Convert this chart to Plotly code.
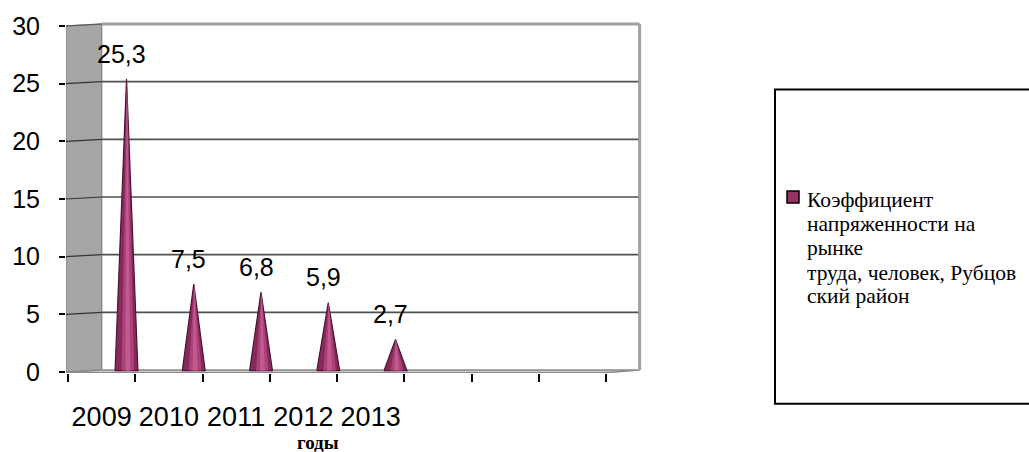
import plotly.graph_objects as go

# Series: labour-market tension coefficient by year
years = ["2009", "2010", "2011", "2012", "2013"]
values = [25.3, 7.5, 6.8, 5.9, 2.7]
value_labels = ["25,3", "7,5", "6,8", "5,9", "2,7"]
n_slots = 8  # category slots on the floor (last three are empty)
y_ticks = [0, 5, 10, 15, 20, 25, 30]
legend_lines = ["Коэффициент", "напряженности на", "рынке",
                "труда, человек, Рубцов", "ский район"]
x_title = "годы"

SANS = "Liberation Sans, Arial, sans-serif"
SERIF = "Liberation Serif, Times New Roman, serif"

# ---- page / plot geometry (pixels) ----
W, H = 1029, 452
PLOT_L, PLOT_R, PLOT_T, PLOT_B = 66, 645, 20, 373
X0_PX, X_UNIT = 68, 67.25      # pixel of x=0 and pixels per category
Y0_PX, Y_UNIT = 372, 11.6      # pixel of y=0 and pixels per unit
x_range = [(PLOT_L - X0_PX) / X_UNIT, (PLOT_R - X0_PX) / X_UNIT]
y_range = [(Y0_PX - PLOT_B) / Y_UNIT, (Y0_PX - PLOT_T) / Y_UNIT]

DX = 0.5            # depth shift of the back wall (x units)
DY = 2 / Y_UNIT     # depth shift of the back wall (y units)
CONE_DEPTH = 0.37   # cone centre offset from front slot centre
CONE_HW = 0.17      # cone half base width
YMAX = y_ticks[-1]
XL = x_range[0]

LEGEND_LINE_Y = [199, 223, 247, 272, 296]   # pixel centres of legend text lines


def paper_x(px):
    return (px - PLOT_L) / (PLOT_R - PLOT_L)


def paper_y(py):
    return (PLOT_B - py) / (PLOT_B - PLOT_T)


fig = go.Figure()
shapes = []

# left (side) wall
shapes.append(dict(type="path", xref="x", yref="y",
                   path=f"M{XL},0 L{XL},{YMAX} L{DX},{YMAX + DY} L{DX},{DY} Z",
                   fillcolor="#a6a6a6", line=dict(color="#8a8a8a", width=1.5),
                   layer="below"))
# floor
shapes.append(dict(type="path", xref="x", yref="y",
                   path=f"M{XL},-0.06 L{n_slots},-0.06 L{n_slots + DX},{DY} L{DX},{DY} Z",
                   fillcolor="#c8c8c8", line=dict(color="#8c8c8c", width=1.5),
                   layer="below"))
# grid lines on the back wall and across the side wall
for v in y_ticks[1:-1]:
    shapes.append(dict(type="line", xref="x", yref="y",
                       x0=DX, x1=n_slots + DX, y0=v + DY, y1=v + DY,
                       line=dict(color="#505050", width=1.6), layer="below"))
    shapes.append(dict(type="line", xref="x", yref="y",
                       x0=XL, x1=DX, y0=v, y1=v + DY,
                       line=dict(color="#333333", width=1.2), layer="below"))
# top edge of the walls and right edge of the back wall
shapes.append(dict(type="line", xref="x", yref="y",
                   x0=DX, x1=n_slots + DX, y0=YMAX + DY, y1=YMAX + DY,
                   line=dict(color="#a0a0a0", width=3), layer="below"))
shapes.append(dict(type="line", xref="x", yref="y",
                   x0=XL, x1=DX, y0=YMAX, y1=YMAX + DY,
                   line=dict(color="#555555", width=1.2), layer="below"))
shapes.append(dict(type="line", xref="x", yref="y",
                   x0=n_slots + DX, x1=n_slots + DX, y0=DY, y1=YMAX + DY,
                   line=dict(color="#a0a0a0", width=3), layer="below"))

# cones
base = 0.74 * DY
for i, v in enumerate(values):
    c = i + 0.5 + CONE_DEPTH
    for hw, col, lc, lw in [(CONE_HW, "#862a5b", "#4a1530", 1.2),
                            (CONE_HW * 0.55, "#ad4279", None, 0),
                            (CONE_HW * 0.22, "#c25a92", None, 0)]:
        off = 0.02 if hw < CONE_HW else 0
        fig.add_trace(go.Scatter(
            x=[c - hw + off, c + off * 0.3, c + hw + off, c - hw + off],
            y=[base, v + base, base, base],
            mode="lines", fill="toself", fillcolor=col,
            line=dict(color=lc if lc else col, width=lw),
            hoverinfo="skip", showlegend=False))

annotations = []
for i, (v, lab) in enumerate(zip(values, value_labels)):
    annotations.append(dict(x=i + 0.5 + CONE_DEPTH, y=v + base, xref="x", yref="y",
                            text=lab, showarrow=False, xshift=-5, yshift=25,
                            yanchor="middle", xanchor="center",
                            font=dict(family=SANS, size=25, color="#000000")))

# axis title
annotations.append(dict(x=paper_x(318), y=paper_y(443), xref="paper", yref="paper",
                        text=f"<b>{x_title}</b>", showarrow=False,
                        xanchor="center", yanchor="middle",
                        font=dict(family=SERIF, size=19, color="#000000")))

# legend box, key and text
shapes.append(dict(type="rect", xref="paper", yref="paper",
                   x0=paper_x(775), x1=paper_x(1031), y0=paper_y(404), y1=paper_y(88),
                   line=dict(color="#000000", width=2), fillcolor="rgba(0,0,0,0)"))
shapes.append(dict(type="rect", xref="paper", yref="paper",
                   x0=paper_x(787), x1=paper_x(799), y0=paper_y(202), y1=paper_y(190),
                   line=dict(color="#000000", width=1.5), fillcolor="#993366"))
for line_text, ly in zip(legend_lines, LEGEND_LINE_Y):
    annotations.append(dict(x=paper_x(805), y=paper_y(ly), xref="paper", yref="paper",
                            text=line_text, showarrow=False,
                            xanchor="left", yanchor="middle", align="left",
                            font=dict(family=SERIF, size=21.5, color="#000000")))

fig.update_layout(
    width=W, height=H,
    margin=dict(l=PLOT_L, r=W - PLOT_R, t=PLOT_T, b=H - PLOT_B, pad=0),
    paper_bgcolor="white", plot_bgcolor="white",
    shapes=shapes, annotations=annotations, showlegend=False,
    xaxis=dict(range=x_range, showgrid=False, zeroline=False, showline=False,
               tickmode="array", tickvals=[i + 0.5 for i in range(len(years))],
               ticktext=years, ticks="", ticklen=0, ticklabelstandoff=25,
               tickfont=dict(family=SANS, size=27, color="#000000"),
               minor=dict(tickmode="array", tickvals=list(range(n_slots + 1)),
                          ticks="outside", ticklen=8, tickwidth=2,
                          tickcolor="#000000", showgrid=False),
               fixedrange=True),
    yaxis=dict(range=y_range, showgrid=False, zeroline=False, showline=False,
               tickmode="array", tickvals=y_ticks, ticks="outside", ticklen=6,
               tickwidth=1.5, tickcolor="#000000", ticklabelstandoff=14,
               tickfont=dict(family=SANS, size=25, color="#000000"),
               fixedrange=True),
)

fig.write_html("out.html")
